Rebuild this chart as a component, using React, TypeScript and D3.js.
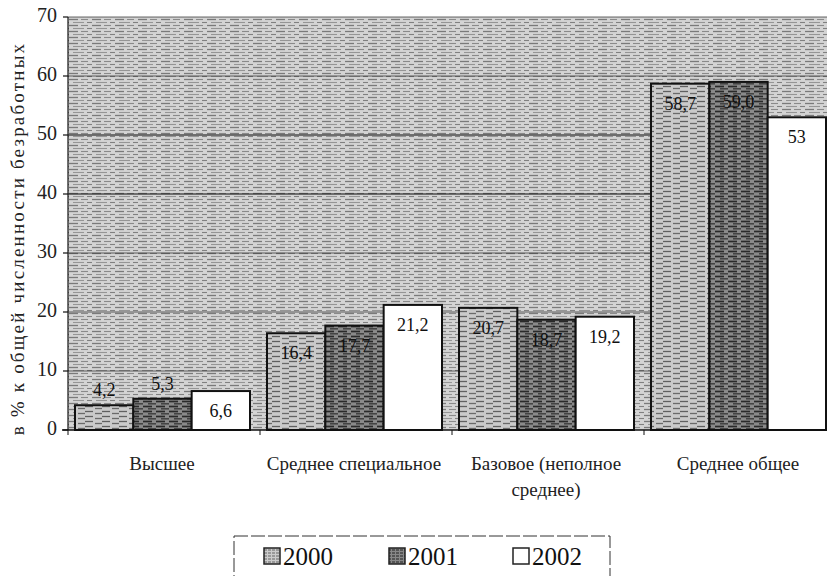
import React from "react";
import * as d3 from "d3";

const categories = ["Высшее", "Среднее специальное", "Базовое (неполное|среднее)", "Среднее общее"];
const years = ["2000", "2001", "2002"];
const values2000 = [4.2, 16.4, 20.7, 58.7];
const values2001 = [5.3, 17.7, 18.7, 59.0];
const values2002 = [6.6, 21.2, 19.2, 53];
const labels2000 = ["4,2", "16,4", "20,7", "58,7"];
const labels2001 = ["5,3", "17,7", "18,7", "59,0"];
const labels2002 = ["6,6", "21,2", "19,2", "53"];
const yTicks = [0, 10, 20, 30, 40, 50, 60, 70];
const yTitle = "в % к общей численности безработных";

const W = 827, H = 576;
const plot = { left: 68, right: 836, top: 17, bottom: 430 };
const tfont = "Liberation Serif, Times New Roman, DejaVu Serif, serif";

export default function App() {
  const y = d3.scaleLinear().domain([0, 70]).range([plot.bottom, plot.top]);
  const x0 = d3.scaleBand<string>().domain(categories).range([plot.left, plot.right]).paddingInner(0).paddingOuter(0);
  const x1 = d3.scaleBand<string>().domain(years).range([7, x0.bandwidth() - 10]).padding(0);
  const series = [values2000, values2001, values2002];
  const labels = [labels2000, labels2001, labels2002];
  const fills = ["url(#pat2000)", "url(#pat2001)", "#ffffff"];

  return (
    <svg width={W} height={H} style={{ display: "block", position: "absolute", left: 0, top: 0, background: "#fff" }}>
      <defs>
        <pattern id="bg" width="23" height="6" patternUnits="userSpaceOnUse">
          <rect width="23" height="6" fill="#d4d4d4" />
          <line x1="0" y1="1.5" x2="9" y2="1.5" stroke="#7a7a7a" strokeWidth="1.3" />
          <line x1="12" y1="1.5" x2="19" y2="1.5" stroke="#8a8a8a" strokeWidth="1.1" />
          <line x1="4" y1="4.5" x2="15" y2="4.5" stroke="#959595" strokeWidth="1.1" />
          <line x1="18" y1="4.5" x2="23" y2="4.5" stroke="#808080" strokeWidth="1.1" />
        </pattern>
        <pattern id="pat2000" width="17" height="5" patternUnits="userSpaceOnUse">
          <rect width="17" height="5" fill="#cacaca" />
          <line x1="0" y1="1.5" x2="8" y2="1.5" stroke="#606060" strokeWidth="1.3" />
          <line x1="10" y1="3.5" x2="17" y2="3.5" stroke="#6a6a6a" strokeWidth="1.3" />
        </pattern>
        <pattern id="pat2001" width="13" height="5" patternUnits="userSpaceOnUse">
          <rect width="13" height="5" fill="#8a8a8a" />
          <line x1="0" y1="1.5" x2="9" y2="1.5" stroke="#2a2a2a" strokeWidth="1.7" />
          <line x1="5" y1="3.8" x2="13" y2="3.8" stroke="#404040" strokeWidth="1.5" />
        </pattern>
        <pattern id="leg2000" width="4" height="3" patternUnits="userSpaceOnUse">
          <rect width="4" height="3" fill="#ccc" />
          <line x1="0" y1="1" x2="3" y2="1" stroke="#666" />
        </pattern>
        <pattern id="leg2001" width="4" height="3" patternUnits="userSpaceOnUse">
          <rect width="4" height="3" fill="#888" />
          <line x1="0" y1="1" x2="3" y2="1" stroke="#222" />
        </pattern>
      </defs>

      {/* plot background */}
      <rect x={plot.left} y={plot.top} width={W - plot.left} height={plot.bottom - plot.top} fill="url(#bg)" />

      {/* gridlines */}
      {yTicks.slice(1).map((t) => (
        <line key={t} x1={plot.left} x2={W} y1={y(t)} y2={y(t)} stroke="#222" strokeWidth={t === 40 || t === 50 ? 1.4 : 0.9} opacity={0.75} />
      ))}

      {/* bars */}
      {categories.map((c, ci) =>
        years.map((yr, si) => {
          const v = series[si][ci];
          const bx = (x0(c) as number) + (x1(yr) as number);
          const bw = x1.bandwidth();
          const top = y(v);
          const lx = bx + bw / 2;
          const ly = v < 6 ? top - 13 : top + 22;
          return (
            <g key={c + yr}>
              <rect x={bx} y={top} width={bw} height={plot.bottom - top} fill={fills[si]} stroke="#111" strokeWidth={2} />
              <text x={lx} y={ly} textAnchor="middle" fontFamily={tfont} fontSize={18} fill="#111" dominantBaseline="middle">
                {labels[si][ci]}
              </text>
            </g>
          );
        })
      )}

      {/* axes */}
      <line x1={plot.left} x2={plot.left} y1={plot.top} y2={plot.bottom} stroke="#111" strokeWidth={1.2} />
      <line x1={plot.left - 6} x2={W} y1={plot.bottom} y2={plot.bottom} stroke="#111" strokeWidth={1.5} />
      {yTicks.map((t) => (
        <g key={t}>
          <line x1={plot.left - 5} x2={plot.left} y1={y(t)} y2={y(t)} stroke="#111" strokeWidth={1.2} />
          <text x={plot.left - 11} y={y(t)} textAnchor="end" dominantBaseline="middle" fontFamily={tfont} fontSize={20} fill="#222">
            {t}
          </text>
        </g>
      ))}
      {categories.map((c) => (
        <line key={c} x1={x0(c) as number} x2={x0(c) as number} y1={plot.bottom} y2={plot.bottom + 5} stroke="#111" />
      ))}

      {/* y title */}
      <text
        transform={`translate(20, ${(plot.top + plot.bottom) / 2 + 15}) rotate(-90)`}
        textAnchor="middle"
        dominantBaseline="middle"
        fontFamily={tfont}
        fontSize={19}
        letterSpacing={2.2}
        fill="#222"
      >
        {yTitle}
      </text>

      {/* category labels */}
      {categories.map((c) => {
        const cx = (x0(c) as number) + x0.bandwidth() / 2 - 2;
        const lines = c.split("|");
        return (
          <text key={c} x={cx} y={470} textAnchor="middle" fontFamily={tfont} fontSize={19} fill="#222">
            {lines.map((l, i) => (
              <tspan key={i} x={cx} dy={i === 0 ? 0 : 26}>
                {l}
              </tspan>
            ))}
          </text>
        );
      })}

      {/* legend */}
      <rect x={234} y={536} width={376} height={50} fill="#fff" stroke="#333" strokeWidth={1} strokeDasharray="14 3" />
      {years.map((yr, i) => {
        const lx = [264, 389, 513][i];
        const lf = ["url(#leg2000)", "url(#leg2001)", "#fff"][i];
        return (
          <g key={yr}>
            <rect x={lx} y={548} width={16} height={16} fill={lf} stroke="#222" strokeWidth={1.5} />
            <text x={lx + 19} y={565} fontFamily={tfont} fontSize={25} fill="#111">
              {yr}
            </text>
          </g>
        );
      })}
    </svg>
  );
}
